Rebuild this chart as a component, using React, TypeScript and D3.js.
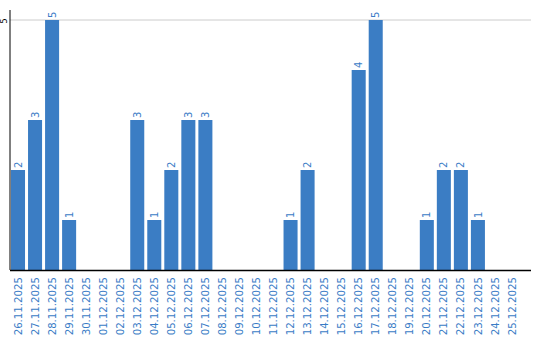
import React from "react";
import * as d3 from "d3";

const categories = [
  "26.11.2025","27.11.2025","28.11.2025","29.11.2025","30.11.2025","01.12.2025","02.12.2025",
  "03.12.2025","04.12.2025","05.12.2025","06.12.2025","07.12.2025","08.12.2025","09.12.2025",
  "10.12.2025","11.12.2025","12.12.2025","13.12.2025","14.12.2025","15.12.2025","16.12.2025",
  "17.12.2025","18.12.2025","19.12.2025","20.12.2025","21.12.2025","22.12.2025","23.12.2025",
  "24.12.2025","25.12.2025",
];
const values = [2,3,5,1,0,0,0,3,1,2,3,3,0,0,0,0,1,2,0,0,4,5,0,0,1,2,2,1,0,0];
const yTicks = [5];

const W = 540, H = 340;
const left = 10, right = 531, top = 20, base = 270;
const barColor = "#3b7dc4";
const labelColor = "#3a7cc6";
const font = "'DejaVu Sans', Verdana, sans-serif";

export default function App() {
  const x = d3.scaleBand<string>().domain(categories).range([left, left + 17 * categories.length]).paddingInner(3 / 17).paddingOuter(0.5 / 17 * 2);
  const y = d3.scaleLinear().domain([0, 5]).range([base, top]);
  return (
    <svg width={W} height={H} style={{ position: "absolute", left: 0, top: 0 }}>
      {yTicks.map((t) => (
        <g key={t}>
          <line x1={left} x2={right} y1={y(t)} y2={y(t)} stroke="#cccccc" strokeWidth={1} />
          <text transform={`translate(7,${y(t) + 1}) rotate(-90)`} textAnchor="middle" fontSize={8.5} fontFamily={font} fill="#000">{t}</text>
        </g>
      ))}
      {categories.map((c, i) => {
        const v = values[i];
        const bx = x(c)!;
        const bw = x.bandwidth();
        const cx = bx + bw / 2;
        return (
          <g key={c}>
            {v > 0 && <rect x={bx} y={y(v)} width={bw} height={base - y(v)} fill={barColor} />}
            {v > 0 && (
              <text transform={`translate(${cx + 3.6},${y(v) - 2}) rotate(-90)`} textAnchor="start" fontSize={10} fontFamily={font} fill={labelColor}>{v}</text>
            )}
            <text transform={`translate(${cx + 3.6},277) rotate(-90)`} textAnchor="end" fontSize={10.2} fontFamily={font} fill={labelColor}>{c}</text>
          </g>
        );
      })}
      <line x1={left} x2={left} y1={10} y2={base} stroke="#000" strokeWidth={1} />
      <line x1={left} x2={right} y1={base + 0.5} y2={base + 0.5} stroke="#000" strokeWidth={1.5} />
    </svg>
  );
}
